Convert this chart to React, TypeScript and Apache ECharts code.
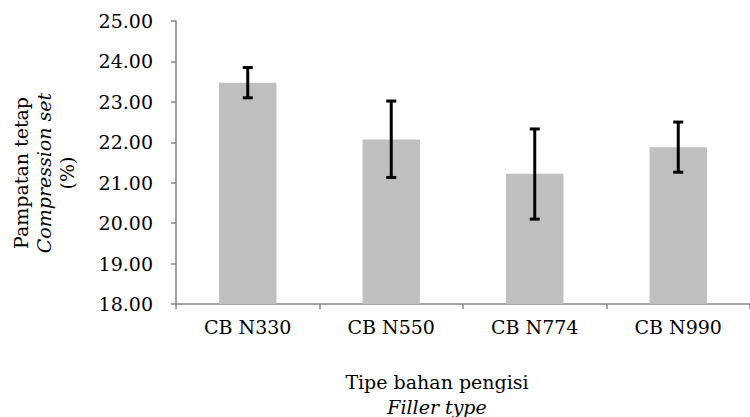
import React, { useEffect, useRef } from "react";
import * as echarts from "echarts";

const categories = ["CB N330", "CB N550", "CB N774", "CB N990"];
const meanValues = [23.47, 22.07, 21.22, 21.88];
const errorLow = [23.1, 21.13, 20.1, 21.26];
const errorHigh = [23.85, 23.02, 22.33, 22.5];
const yTicks = { min: 18, max: 25, interval: 1 };

const FONT = "DejaVu Serif";
const AXIS = "#868686";
const FS = 19;

export default function App() {
  const ref = useRef<HTMLDivElement>(null);
  useEffect(() => {
    if (!ref.current) return;
    const chart = echarts.init(ref.current, undefined, { renderer: "svg" });
    const errData = categories.map((_, i) => [i, errorLow[i], errorHigh[i]]);
    chart.setOption({
      animation: false,
      backgroundColor: "#ffffff",
      grid: { left: 176, top: 21, width: 584, height: 283, containLabel: false },
      xAxis: {
        type: "category",
        data: categories,
        axisLine: { lineStyle: { color: AXIS, width: 1.5 } },
        axisTick: { show: true, length: 5, lineStyle: { color: AXIS, width: 1.5 } },
        axisLabel: { color: "#000", fontFamily: FONT, fontSize: FS, margin: 13 },
      },
      yAxis: {
        type: "value",
        min: yTicks.min,
        max: yTicks.max,
        interval: yTicks.interval,
        splitLine: { show: false },
        axisLine: { show: true, lineStyle: { color: AXIS, width: 1.5 } },
        axisTick: { show: true, length: 5, lineStyle: { color: AXIS, width: 1.5 } },
        axisLabel: {
          color: "#000",
          fontFamily: FONT,
          fontSize: FS,
          margin: 23,
          formatter: (v: number) => v.toFixed(2),
        },
      },
      series: [
        {
          type: "bar",
          data: meanValues,
          barWidth: "40%",
          itemStyle: { color: "#BFBFBF" },
        },
        {
          type: "custom",
          data: errData,
          z: 10,
          renderItem: (params: any, api: any) => {
            const x = api.value(0);
            const lo = api.coord([x, api.value(1)]);
            const hi = api.coord([x, api.value(2)]);
            const half = 5;
            const style = { stroke: "#000", lineWidth: 3 };
            return {
              type: "group",
              children: [
                { type: "line", shape: { x1: hi[0], y1: hi[1], x2: lo[0], y2: lo[1] }, style },
                { type: "line", shape: { x1: hi[0] - half, y1: hi[1], x2: hi[0] + half, y2: hi[1] }, style },
                { type: "line", shape: { x1: lo[0] - half, y1: lo[1], x2: lo[0] + half, y2: lo[1] }, style },
              ],
            };
          },
        },
      ],
      graphic: [
        {
          type: "text",
          x: 44,
          y: 173,
          rotation: Math.PI / 2,
          style: {
            text: "{a|Pampatan tetap}\n{b|Compression set}\n{a|(%)}",
            align: "center",
            verticalAlign: "middle",
            fill: "#000",
            rich: {
              a: { fontFamily: FONT, fontSize: FS, lineHeight: 23, fill: "#000" },
              b: { fontFamily: FONT, fontSize: FS, fontStyle: "italic", lineHeight: 23, fill: "#000" },
            },
          },
        },
        {
          type: "text",
          x: 437,
          y: 394,
          style: {
            text: "{a|Tipe bahan pengisi}\n{b|Filler type}",
            align: "center",
            verticalAlign: "middle",
            fill: "#000",
            rich: {
              a: { fontFamily: FONT, fontSize: FS, lineHeight: 25, fill: "#000" },
              b: { fontFamily: FONT, fontSize: FS, fontStyle: "italic", lineHeight: 25, fill: "#000" },
            },
          },
        },
      ],
    });
    return () => chart.dispose();
  }, []);
  return (
    <div
      ref={ref}
      style={{ position: "fixed", left: 0, top: 0, width: 750, height: 417 }}
    />
  );
}
